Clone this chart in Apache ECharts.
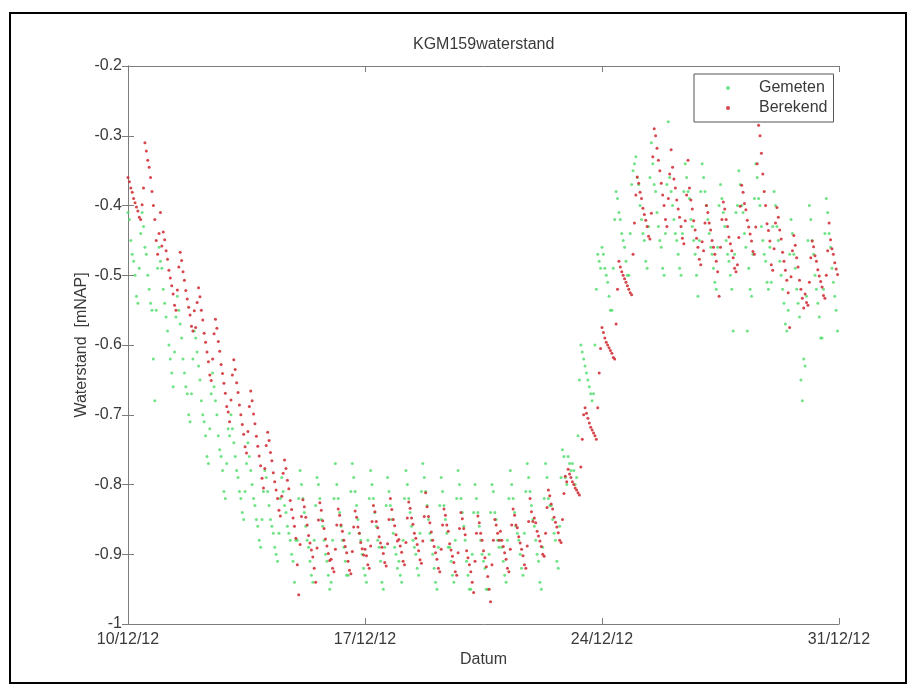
<!DOCTYPE html>
<html>
<head>
<meta charset="utf-8">
<script src="https://cdn.jsdelivr.net/npm/echarts/dist/echarts.min.js"></script>
<style>
html,body{margin:0;padding:0;background:#fff}
#main{width:916px;height:695px}
</style>
</head>
<body>
<div id="main"></div>
<script>
// hourly samples from 10/12/12 00:00
var startDate = new Date(2012, 11, 10);
var seriesNames = ['Gemeten', 'Berekend'];

// measured level, cm (one row per day, 24 hours)
var gemetenCm = [
  -41,-42,-45,-47,-48,-50,-53,-54,-49,-44,-41,-43, -46,-47,-50,-52,-54,-55,-62,-68,-55,-49,-46,-48,
  -49,-52,-54,-56,-58,-60,-62,-64,-66,-61,-56,-53, -55,-57,-59,-62,-64,-66,-67,-70,-71,-67,-62,-58,
  -59,-61,-63,-65,-68,-70,-71,-73,-76,-77,-72,-67, -64,-66,-68,-70,-73,-75,-76,-78,-81,-82,-77,-72,
  -73,-70,-72,-74,-76,-78,-79,-81,-82,-84,-85,-81, -77,-74,-76,-78,-80,-82,-83,-85,-86,-88,-89,-85,
  -81,-78,-79,-81,-83,-85,-86,-87,-89,-90,-91,-87, -82,-79,-81,-83,-84,-86,-87,-88,-90,-91,-94,-88,
  -88,-82,-78,-80,-82,-84,-86,-88,-89,-91,-93,-94, -88,-83,-79,-80,-82,-85,-86,-88,-90,-91,-93,-95,
  -94,-88,-82,-77,-80,-82,-84,-86,-88,-89,-91,-93, -93,-87,-81,-77,-79,-81,-83,-85,-87,-88,-90,-92,
  -93,-94,-88,-82,-78,-80,-82,-84,-86,-88,-89,-91, -94,-95,-89,-83,-79,-81,-83,-85,-87,-89,-90,-92,
  -91,-93,-94,-88,-82,-78,-80,-82,-84,-86,-88,-89, -90,-92,-93,-87,-81,-77,-79,-81,-83,-85,-87,-88,
  -90,-92,-94,-95,-89,-83,-79,-81,-83,-85,-87,-89, -89,-91,-93,-94,-88,-82,-78,-80,-82,-84,-86,-88,
  -91,-93,-95,-95,-90,-84,-80,-82,-84,-86,-88,-90, -91,-92,-95,-95,-90,-84,-80,-81,-84,-85,-88,-89,
  -88,-89,-91,-93,-94,-88,-82,-78,-80,-82,-84,-86, -87,-88,-90,-92,-93,-87,-81,-77,-79,-81,-83,-85,
  -86,-88,-90,-91,-94,-95,-89,-82,-77,-79,-82,-83, -83,-85,-87,-88,-91,-92,-86,-79,-75,-76,-79,-80,
  -76,-77,-78,-77,-78,-80,-79,-73,-65,-60,-61,-62, -63,-64,-65,-66,-67,-68,-67,-60,-52,-47,-48,-49,
  -46,-47,-49,-50,-51,-53,-55,-55,-49,-42,-38,-39, -41,-42,-44,-45,-46,-48,-50,-50,-44,-37,-35,-34,
  -33,-36,-37,-40,-42,-44,-45,-48,-49,-43,-36,-31, -34,-37,-38,-41,-43,-45,-46,-49,-50,-44,-37,-28,
  -36,-38,-40,-42,-44,-45,-47,-49,-50,-44,-38,-34, -36,-38,-39,-42,-43,-45,-47,-50,-53,-45,-38,-34,
  -36,-38,-40,-42,-44,-46,-47,-49,-51,-52,-46,-40, -37,-39,-41,-43,-45,-47,-48,-50,-52,-58,-47,-41,
  -40,-35,-37,-40,-41,-44,-46,-58,-49,-52,-53,-47, -39,-34,-36,-39,-40,-43,-45,-47,-48,-51,-52,-46,
  -51,-43,-38,-40,-43,-45,-48,-50,-52,-54,-57,-58, -55,-47,-42,-44,-47,-49,-52,-54,-56,-65,-68,-62,
  -63,-53,-45,-40,-42,-45,-47,-50,-52,-54,-56,-59, -59,-52,-44,-39,-41,-44,-46,-49,-51,-53,-55,-58
];

// computed level, mm (one row per day, 24 hours)
var berekendMm = [
  -360,-366,-375,-381,-390,-396,-402,-408,-417,-420,-399,-375, -310,-322,-335,-345,-360,-380,-400,-420,-450,-470,-440,-410,
  -458,-438,-449,-465,-477,-493,-504,-515,-527,-543,-550,-521, -488,-467,-479,-495,-507,-522,-534,-546,-557,-573,-580,-551,
  -575,-539,-518,-531,-550,-564,-583,-596,-610,-624,-643,-651, -620,-584,-563,-576,-595,-609,-628,-641,-655,-669,-688,-696,
  -710,-679,-643,-621,-635,-654,-668,-686,-700,-714,-728,-746, -755,-724,-688,-666,-680,-699,-713,-731,-745,-759,-773,-791,
  -805,-777,-744,-725,-737,-754,-766,-783,-796,-808,-820,-837, -845,-817,-784,-765,-777,-794,-806,-823,-836,-848,-860,-877,
  -915,-958,-886,-846,-822,-832,-847,-858,-873,-884,-894,-904, -920,-940,-891,-851,-826,-837,-852,-863,-878,-888,-899,-909,
  -907,-920,-925,-893,-858,-835,-844,-858,-867,-880,-889,-898, -910,-923,-928,-896,-861,-838,-847,-861,-870,-883,-892,-901,
  -893,-902,-915,-920,-888,-853,-830,-839,-853,-862,-875,-884, -890,-899,-912,-917,-885,-850,-820,-836,-850,-859,-872,-881,
  -879,-888,-897,-910,-915,-883,-848,-825,-834,-848,-857,-870, -877,-886,-895,-908,-913,-881,-846,-812,-832,-846,-855,-868,
  -880,-889,-898,-907,-920,-925,-893,-858,-835,-844,-858,-867, -885,-894,-903,-912,-925,-930,-898,-863,-840,-849,-863,-872,
  -895,-905,-915,-925,-940,-955,-910,-870,-845,-855,-870,-880, -895,-905,-918,-932,-950,-968,-915,-880,-850,-858,-870,-880,
  -867,-880,-889,-898,-907,-920,-925,-893,-858,-835,-844,-858, -862,-875,-884,-893,-902,-915,-920,-888,-853,-820,-839,-853,
  -848,-855,-867,-874,-881,-889,-900,-903,-870,-833,-808,-816, -828,-835,-847,-854,-861,-869,-880,-883,-850,-813,-788,-796,
  -778,-785,-790,-796,-800,-805,-808,-812,-815,-775,-735,-700, -690,-698,-705,-712,-718,-722,-726,-730,-735,-690,-640,-605,
  -575,-582,-590,-596,-600,-604,-608,-612,-618,-620,-570,-520, -480,-488,-495,-500,-505,-510,-515,-520,-525,-528,-470,-425,
  -385,-359,-368,-381,-390,-404,-413,-421,-430,-444,-448,-411, -330,-290,-300,-318,-335,-350,-368,-385,-400,-420,-430,-390,
  -355,-320,-345,-362,-375,-392,-405,-417,-430,-447,-455,-422, -385,-335,-375,-392,-405,-422,-435,-447,-460,-477,-485,-452,
  -465,-425,-400,-410,-425,-435,-450,-460,-470,-480,-495,-530, -460,-420,-395,-405,-420,-430,-445,-455,-465,-475,-490,-495,
  -485,-446,-401,-371,-381,-397,-406,-421,-431,-441,-451,-466, -470,-431,-340,-285,-300,-325,-355,-380,-400,-426,-436,-451,
  -485,-493,-462,-425,-403,-417,-435,-448,-467,-480,-493,-507, -525,-575,-502,-465,-443,-457,-475,-488,-507,-520,-533,-547,
  -527,-539,-543,-510,-475,-451,-459,-472,-480,-492,-501,-509, -517,-529,-533,-500,-465,-425,-449,-462,-470,-482,-491,-499
];

var font = "'Liberation Sans', Arial, sans-serif";
var axisColor = '#7c7c7c';
var textColor = '#3a3a3a';

function pad2(n) { return (n < 10 ? '0' : '') + n; }
function dayLabel(v) {
  var d = new Date(startDate.getTime() + v * 86400000);
  return pad2(d.getDate()) + '/' + pad2(d.getMonth() + 1) + '/' + pad2(d.getFullYear() % 100);
}

var gemetenData = gemetenCm.map(function (v, i) { return [i / 24, v / 100]; });
var berekendData = berekendMm.map(function (v, i) { return [i / 24, v / 1000]; });

var chart = echarts.init(document.getElementById('main'));
var boxAxis = {
  axisLine: { show: true, lineStyle: { color: axisColor, width: 1 } },
  axisTick: { show: true, inside: true, length: 6, lineStyle: { color: axisColor } },
  splitLine: { show: false }
};

chart.setOption({
  animation: false,
  backgroundColor: '#fff',
  textStyle: { fontFamily: font },
  title: {
    text: 'KGM159waterstand',
    left: 413, top: 37, padding: 0,
    textStyle: { fontSize: 16, fontWeight: 'normal', color: textColor, fontFamily: font }
  },
  legend: {
    data: seriesNames,
    orient: 'vertical',
    left: 694, top: 74,
    padding: [5, 6, 5, 32],
    itemGap: 2,
    itemWidth: 4, itemHeight: 4,
    icon: 'circle',
    borderColor: '#555', borderWidth: 1, borderRadius: 0,
    backgroundColor: '#fff',
    textStyle: { fontSize: 16, lineHeight: 18, color: textColor, fontFamily: font, padding: [0, 0, 0, 24] }
  },
  grid: { left: 128, right: 77, top: 66, bottom: 71, containLabel: false },
  xAxis: [
    Object.assign({
      type: 'value', min: 0, max: 21, interval: 7,
      name: 'Datum', nameLocation: 'middle', nameGap: 28, nameMoveOverlap: false,
      nameTextStyle: { fontSize: 16, color: textColor, fontFamily: font },
      axisLabel: { fontSize: 16, color: textColor, margin: 8, fontFamily: font, formatter: dayLabel }
    }, boxAxis),
    Object.assign({
      type: 'value', min: 0, max: 21, interval: 7, position: 'top',
      axisLabel: { show: false }
    }, boxAxis)
  ],
  yAxis: [
    Object.assign({
      type: 'value', min: -1, max: -0.2, interval: 0.1,
      name: 'Waterstand  [mNAP]', nameLocation: 'middle', nameGap: 38, nameMoveOverlap: false,
      nameTextStyle: { fontSize: 16, color: textColor, fontFamily: font },
      axisLabel: { fontSize: 16, color: textColor, margin: 6, fontFamily: font }
    }, boxAxis),
    Object.assign({
      type: 'value', min: -1, max: -0.2, interval: 0.1, position: 'right',
      axisLabel: { show: false }
    }, boxAxis)
  ],
  graphic: [{
    type: 'rect',
    shape: { x: 10, y: 13, width: 896, height: 670 },
    style: { fill: 'none', stroke: '#000', lineWidth: 2 },
    silent: true
  }],
  series: [
    {
      name: seriesNames[0], type: 'scatter', data: gemetenData,
      symbol: 'circle', symbolSize: 3,
      itemStyle: { color: '#4cdc68', opacity: 0.8 },
      emphasis: { disabled: true }
    },
    {
      name: seriesNames[1], type: 'scatter', data: berekendData,
      symbol: 'circle', symbolSize: 3,
      itemStyle: { color: '#d2323a', opacity: 0.9 },
      emphasis: { disabled: true }
    }
  ]
});
</script>
</body>
</html>
